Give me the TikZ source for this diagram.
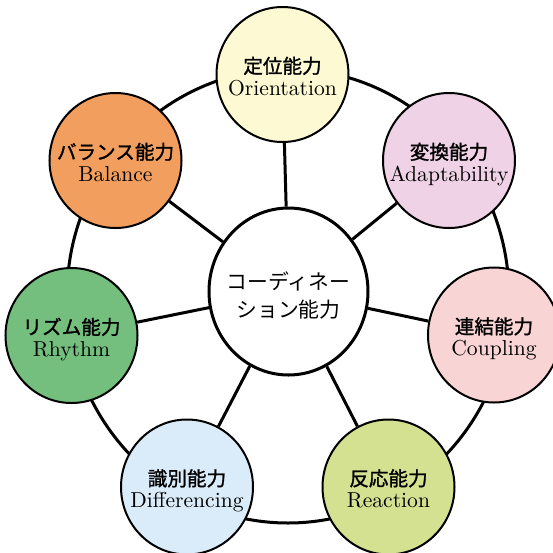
\documentclass[tikz,border=0pt]{standalone}
\usepackage{fontspec}
\newfontfamily\jpfont{Noto Sans CJK JP}
\newfontfamily\jpmed{Noto Sans CJK JP}[FakeBold=1.3]
\usetikzlibrary{shapes.geometric}

\definecolor{oriFill}{HTML}{FCF9D3}
\definecolor{adaFill}{HTML}{F0D2E6}
\definecolor{couFill}{HTML}{F8D4D4}
\definecolor{reaFill}{HTML}{D4E191}
\definecolor{difFill}{HTML}{DAECFA}
\definecolor{rhyFill}{HTML}{74BF7D}
\definecolor{balFill}{HTML}{F29E5E}

\newcommand{\skl}[2]{\raisebox{-2.5pt}[\height][\depth]{\makebox[0pt]{\begin{tabular}{@{}c@{}}%
  {\jpmed\fontsize{9.8}{11.5}\selectfont #1}\\[-0.5pt]#2\end{tabular}}}}

\begin{document}
\begin{tikzpicture}[x=0.5pt, y=-0.5pt]
    \tikzstyle{skill}=[draw, ellipse, line width=1pt, minimum width=66pt,
      minimum height=67.5pt, inner sep=0pt,
      font=\fontsize{10.8}{11.5}\selectfont]
    \tikzstyle{link}=[line width=1.5pt]

    \useasboundingbox (0, 0) rectangle (553, 553);

    % Ring
    \draw[link] (288, 296) ellipse [x radius=221, y radius=227];

    % Coordination
    \node[draw, ellipse, line width=1.5pt, fill=white, minimum width=79.5pt,
      minimum height=83.5pt, inner sep=0pt,
      font=\jpfont\fontsize{10.4}{14}\selectfont]
      (coord) at (288.5, 291.5)
      {\raisebox{-3pt}[\height][\depth]{\makebox[0pt]{\begin{tabular}{@{}c@{}}コーディネー\\ション能力\end{tabular}}}};

    % Skills
    \node[skill, fill=oriFill] (ori) at (282.5, 74.5) {\skl{定位能力}{Orientation}};
    \node[skill, fill=adaFill] (ada) at (449, 160.5) {\skl{変換能力}{Adaptability}};
    \node[skill, fill=couFill] (cou) at (494, 335) {\skl{連結能力}{Coupling}};
    \node[skill, fill=reaFill] (rea) at (388.5, 487) {\skl{反応能力}{Reaction}};
    \node[skill, fill=difFill] (dif) at (187, 487) {\skl{識別能力}{Differencing}};
    \node[skill, fill=rhyFill] (rhy) at (71.5, 335.5) {\skl{リズム能力}{Rhythm}};
    \node[skill, fill=balFill] (bal) at (115.5, 160.5) {\skl{バランス能力}{Balance}};

    % Spokes
    \foreach \s in {ori, ada, cou, rea, dif, rhy, bal}
      \draw[link] (coord) -- (\s);
\end{tikzpicture}
\end{document}
